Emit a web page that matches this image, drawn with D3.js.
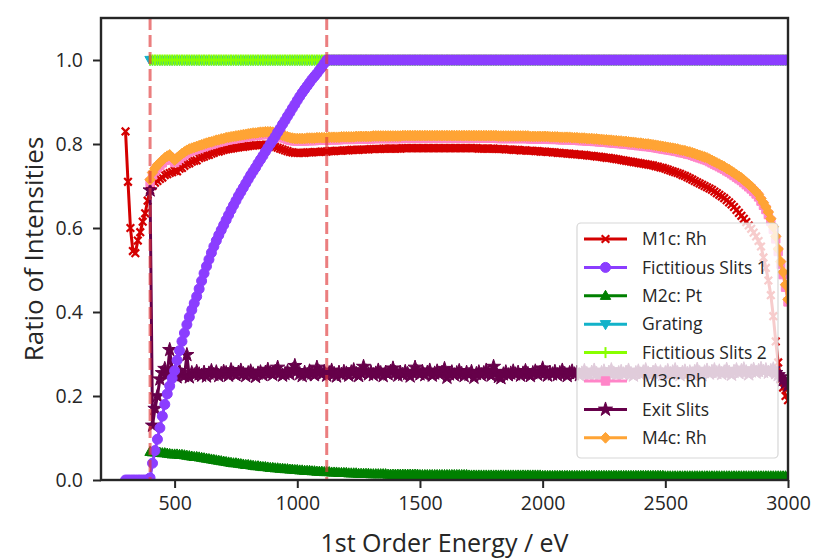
<!DOCTYPE html>
<html><head><meta charset="utf-8">
<script src="https://cdn.jsdelivr.net/npm/d3@7"></script>
<style>body{margin:0;background:#fff} text{font-family:"Open Sans",sans-serif;fill:#262626}</style>
</head><body><svg id="c" width="815" height="560"></svg>
<script>
// Energy grid (eV) sampled every 10 eV from 300 to 3000
const energies = d3.range(300, 3001, 10);
const seriesNames = ["M1c: Rh","Fictitious Slits 1","M2c: Pt","Grating","Fictitious Slits 2","M3c: Rh","Exit Slits","M4c: Rh"];
const xTicks = [500,1000,1500,2000,2500,3000];
const yTicks = [0,0.2,0.4,0.6,0.8,1.0];
const cutoffEnergies = [400,1120];
const N = null;

const m1cRh = [
0.83,0.71,0.60,0.545,0.54,0.57,0.59,0.615,0.635,0.665,
0.69,0.70,0.708,0.712,0.717,0.72,0.726,0.728,0.731,0.733,
0.736,0.735,0.741,0.743,0.748,0.752,0.754,0.758,0.76,0.761,
0.766,0.768,0.77,0.773,0.774,0.777,0.779,0.782,0.782,0.784,
0.786,0.787,0.788,0.789,0.79,0.791,0.792,0.793,0.793,0.794,
0.795,0.796,0.796,0.797,0.797,0.798,0.798,0.798,0.798,0.797,
0.795,0.793,0.791,0.789,0.787,0.785,0.783,0.781,0.78,0.779,
0.779,0.779,0.779,0.779,0.78,0.78,0.78,0.781,0.781,0.781,
0.782,0.782,0.782,0.783,0.783,0.783,0.784,0.784,0.784,0.785,
0.785,0.785,0.786,0.786,0.786,0.786,0.787,0.787,0.787,0.787,
0.788,0.788,0.788,0.788,0.788,0.789,0.789,0.789,0.789,0.789,
0.789,0.789,0.789,0.79,0.79,0.79,0.79,0.79,0.79,0.79,
0.79,0.79,0.79,0.79,0.79,0.79,0.79,0.79,0.79,0.79,
0.79,0.79,0.79,0.79,0.79,0.79,0.79,0.79,0.79,0.79,
0.79,0.79,0.79,0.79,0.789,0.789,0.789,0.789,0.789,0.789,
0.789,0.788,0.788,0.788,0.788,0.787,0.787,0.787,0.786,0.786,
0.786,0.785,0.785,0.785,0.784,0.784,0.784,0.783,0.783,0.782,
0.782,0.782,0.781,0.781,0.78,0.78,0.779,0.779,0.778,0.778,
0.777,0.777,0.776,0.776,0.775,0.775,0.774,0.774,0.773,0.772,
0.772,0.771,0.77,0.77,0.769,0.768,0.767,0.767,0.766,0.765,
0.764,0.763,0.762,0.761,0.76,0.759,0.758,0.757,0.756,0.755,
0.754,0.753,0.752,0.751,0.75,0.749,0.747,0.746,0.744,0.743,
0.741,0.739,0.737,0.735,0.733,0.731,0.729,0.726,0.724,0.721,
0.718,0.715,0.712,0.709,0.706,0.703,0.70,0.697,0.694,0.691,
0.687,0.683,0.679,0.675,0.671,0.666,0.661,0.656,0.65,0.643,
0.636,0.629,0.622,0.614,0.606,0.598,0.589,0.58,0.569,0.556,
0.53,0.505,0.475,0.44,0.39,0.33,0.28,0.24,0.22,0.20,
0.19];

const fictSlits1 = [
0,0,0,0,0,0,0,0,0,0,
0.005,0.04,0.07,0.097,0.124,0.152,0.18,0.205,0.224,0.242,
0.26,0.285,0.308,0.33,0.35,0.37,0.388,0.405,0.421,0.437,
0.455,0.474,0.492,0.509,0.525,0.541,0.556,0.57,0.583,0.595,
0.607,0.619,0.631,0.643,0.654,0.665,0.676,0.686,0.696,0.706,
0.716,0.726,0.735,0.744,0.754,0.763,0.772,0.782,0.791,0.80,
0.809,0.818,0.828,0.837,0.847,0.856,0.866,0.875,0.885,0.894,
0.904,0.913,0.922,0.930,0.938,0.946,0.954,0.961,0.968,0.976,
0.983,0.992,1,1,1,1,1,1,1,1,
1,1,1,1,1,1,1,1,1,1,
1,1,1,1,1,1,1,1,1,1,
1,1,1,1,1,1,1,1,1,1,
1,1,1,1,1,1,1,1,1,1,
1,1,1,1,1,1,1,1,1,1,
1,1,1,1,1,1,1,1,1,1,
1,1,1,1,1,1,1,1,1,1,
1,1,1,1,1,1,1,1,1,1,
1,1,1,1,1,1,1,1,1,1,
1,1,1,1,1,1,1,1,1,1,
1,1,1,1,1,1,1,1,1,1,
1,1,1,1,1,1,1,1,1,1,
1,1,1,1,1,1,1,1,1,1,
1,1,1,1,1,1,1,1,1,1,
1,1,1,1,1,1,1,1,1,1,
1,1,1,1,1,1,1,1,1,1,
1,1,1,1,1,1,1,1,1,1,
1,1,1,1,1,1,1,1,1,1,
1];

const m2cPt = [
N,N,N,N,N,N,N,N,N,N,
0.067,0.066,0.066,0.065,0.065,0.064,0.064,0.063,0.062,0.061,
0.061,0.061,0.06,0.06,0.059,0.058,0.057,0.056,0.055,0.055,
0.054,0.053,0.052,0.051,0.05,0.049,0.048,0.047,0.046,0.045,
0.044,0.043,0.042,0.041,0.04,0.04,0.039,0.038,0.037,0.036,
0.036,0.035,0.034,0.033,0.033,0.032,0.031,0.031,0.03,0.029,
0.029,0.028,0.028,0.027,0.027,0.026,0.026,0.025,0.025,0.024,
0.024,0.023,0.023,0.022,0.022,0.022,0.021,0.021,0.02,0.02,
0.02,0.019,0.019,0.019,0.018,0.018,0.018,0.017,0.017,0.017,
0.017,0.016,0.016,0.016,0.016,0.015,0.015,0.015,0.015,0.015,
0.014,0.014,0.014,0.014,0.014,0.014,0.014,0.013,0.013,0.013,
0.013,0.013,0.013,0.013,0.013,0.013,0.013,0.013,0.013,0.013,
0.012,0.012,0.012,0.012,0.012,0.012,0.012,0.012,0.012,0.012,
0.012,0.012,0.012,0.012,0.012,0.012,0.012,0.012,0.012,0.012,
0.011,0.011,0.011,0.011,0.011,0.011,0.011,0.011,0.011,0.011,
0.011,0.011,0.011,0.011,0.011,0.011,0.011,0.011,0.011,0.011,
0.011,0.011,0.011,0.011,0.011,0.011,0.011,0.011,0.011,0.011,
0.01,0.01,0.01,0.01,0.01,0.01,0.01,0.01,0.01,0.01,
0.01,0.01,0.01,0.01,0.01,0.01,0.01,0.01,0.01,0.01,
0.01,0.01,0.01,0.01,0.01,0.01,0.01,0.01,0.01,0.01,
0.01,0.01,0.01,0.01,0.01,0.01,0.01,0.01,0.01,0.01,
0.01,0.01,0.01,0.01,0.01,0.01,0.01,0.01,0.01,0.01,
0.009,0.009,0.009,0.009,0.009,0.009,0.009,0.009,0.009,0.009,
0.009,0.009,0.009,0.009,0.009,0.009,0.009,0.009,0.009,0.009,
0.009,0.009,0.009,0.009,0.009,0.009,0.009,0.009,0.009,0.009,
0.009,0.009,0.009,0.009,0.009,0.009,0.009,0.009,0.009,0.009,
0.009,0.009,0.009,0.009,0.009,0.009,0.009,0.009,0.009,0.009,
0.009];

const grating = [
N,N,N,N,N,N,N,N,N,N,
1,1,1,1,1,1,1,1,1,1, 1,1,1,1,1,1,1,1,1,1, 1,1,1,1,1,1,1,1,1,1,
1,1,1,1,1,1,1,1,1,1, 1,1,1,1,1,1,1,1,1,1, 1,1,1,1,1,1,1,1,1,1,
1,1,1,1,1,1,1,1,1,1, 1,1,1,1,1,1,1,1,1,1, 1,1,1,1,1,1,1,1,1,1,
1,1,1,1,1,1,1,1,1,1, 1,1,1,1,1,1,1,1,1,1, 1,1,1,1,1,1,1,1,1,1,
1,1,1,1,1,1,1,1,1,1, 1,1,1,1,1,1,1,1,1,1, 1,1,1,1,1,1,1,1,1,1,
1,1,1,1,1,1,1,1,1,1, 1,1,1,1,1,1,1,1,1,1, 1,1,1,1,1,1,1,1,1,1,
1,1,1,1,1,1,1,1,1,1, 1,1,1,1,1,1,1,1,1,1, 1,1,1,1,1,1,1,1,1,1,
1,1,1,1,1,1,1,1,1,1, 1,1,1,1,1,1,1,1,1,1, 1,1,1,1,1,1,1,1,1,1,
1,1,1,1,1,1,1,1,1,1, 1,1,1,1,1,1,1,1,1,1,
1];

const fictSlits2 = [
N,N,N,N,N,N,N,N,N,N,
1,1,1,1,1,1,1,1,1,1, 1,1,1,1,1,1,1,1,1,1, 1,1,1,1,1,1,1,1,1,1,
1,1,1,1,1,1,1,1,1,1, 1,1,1,1,1,1,1,1,1,1, 1,1,1,1,1,1,1,1,1,1,
1,1,1,1,1,1,1,1,1,1, 1,1,1,1,1,1,1,1,1,1, 1,1,1,1,1,1,1,1,1,1,
1,1,1,1,1,1,1,1,1,1, 1,1,1,1,1,1,1,1,1,1, 1,1,1,1,1,1,1,1,1,1,
1,1,1,1,1,1,1,1,1,1, 1,1,1,1,1,1,1,1,1,1, 1,1,1,1,1,1,1,1,1,1,
1,1,1,1,1,1,1,1,1,1, 1,1,1,1,1,1,1,1,1,1, 1,1,1,1,1,1,1,1,1,1,
1,1,1,1,1,1,1,1,1,1, 1,1,1,1,1,1,1,1,1,1, 1,1,1,1,1,1,1,1,1,1,
1,1,1,1,1,1,1,1,1,1, 1,1,1,1,1,1,1,1,1,1, 1,1,1,1,1,1,1,1,1,1,
1,1,1,1,1,1,1,1,1,1, 1,1,1,1,1,1,1,1,1,1,
1];

const m3cRh = [
N,N,N,N,N,N,N,N,N,N,
0.709,0.726,0.736,0.744,0.749,0.755,0.761,0.765,0.768,0.762,
0.756,0.761,0.766,0.771,0.775,0.779,0.782,0.784,0.786,0.788,
0.79,0.792,0.794,0.796,0.798,0.799,0.801,0.803,0.804,0.806,
0.807,0.809,0.81,0.811,0.812,0.813,0.814,0.815,0.816,0.817,
0.818,0.819,0.82,0.82,0.821,0.822,0.822,0.823,0.823,0.823,
0.822,0.821,0.819,0.817,0.815,0.813,0.811,0.809,0.808,0.807,
0.807,0.807,0.807,0.807,0.808,0.808,0.808,0.808,0.809,0.809,
0.809,0.809,0.809,0.81,0.81,0.81,0.81,0.81,0.811,0.811,
0.811,0.811,0.811,0.811,0.812,0.812,0.812,0.812,0.812,0.812,
0.812,0.813,0.813,0.813,0.813,0.813,0.813,0.813,0.813,0.813,
0.813,0.813,0.813,0.814,0.814,0.814,0.814,0.814,0.814,0.814,
0.814,0.814,0.814,0.814,0.814,0.814,0.814,0.814,0.814,0.814,
0.814,0.814,0.814,0.814,0.814,0.814,0.814,0.814,0.814,0.814,
0.814,0.814,0.814,0.814,0.814,0.814,0.814,0.814,0.814,0.814,
0.814,0.814,0.813,0.813,0.813,0.813,0.813,0.813,0.813,0.813,
0.813,0.813,0.813,0.813,0.813,0.812,0.812,0.812,0.812,0.812,
0.812,0.812,0.812,0.811,0.811,0.811,0.811,0.81,0.81,0.81,
0.81,0.81,0.809,0.809,0.809,0.808,0.808,0.808,0.807,0.807,
0.807,0.806,0.806,0.805,0.805,0.804,0.804,0.803,0.803,0.802,
0.802,0.801,0.801,0.80,0.80,0.799,0.798,0.798,0.797,0.796,
0.796,0.795,0.794,0.794,0.793,0.792,0.791,0.79,0.789,0.788,
0.787,0.786,0.785,0.784,0.783,0.782,0.78,0.779,0.778,0.776,
0.775,0.773,0.771,0.769,0.767,0.765,0.763,0.761,0.758,0.755,
0.752,0.749,0.746,0.743,0.74,0.736,0.733,0.729,0.725,0.721,
0.717,0.713,0.708,0.703,0.698,0.693,0.687,0.681,0.674,0.664,
0.654,0.644,0.632,0.616,0.597,0.574,0.544,0.514,0.489,0.459,
0.424];

const exitSlits = [
N,N,N,N,N,N,N,N,N,N,
0.69,0.13,0.17,0.2,0.24,0.255,0.265,0.25,0.31,0.26,
0.255,0.245,0.26,0.25,0.248,0.298,0.245,0.255,0.25,0.258,
0.252,0.249,0.256,0.247,0.254,0.26,0.251,0.257,0.248,0.253,
0.258,0.255,0.249,0.262,0.254,0.25,0.256,0.261,0.253,0.248,
0.255,0.259,0.252,0.246,0.254,0.257,0.25,0.256,0.263,0.255,
0.251,0.258,0.268,0.255,0.249,0.253,0.258,0.252,0.262,0.272,
0.26,0.253,0.248,0.256,0.251,0.259,0.254,0.25,0.268,0.257,
0.252,0.258,0.249,0.255,0.261,0.253,0.247,0.256,0.251,0.258,
0.254,0.249,0.257,0.262,0.253,0.248,0.255,0.27,0.259,0.252,
0.257,0.25,0.254,0.261,0.255,0.248,0.256,0.252,0.258,0.266,
0.255,0.249,0.256,0.251,0.258,0.253,0.247,0.255,0.268,0.257,
0.252,0.258,0.25,0.256,0.261,0.249,0.254,0.259,0.252,0.256,
0.265,0.244,0.252,0.257,0.25,0.255,0.26,0.253,0.248,0.256,
0.251,0.258,0.244,0.253,0.257,0.25,0.255,0.261,0.254,0.249,
0.27,0.258,0.246,0.243,0.252,0.257,0.25,0.254,0.259,0.252,
0.256,0.249,0.254,0.26,0.253,0.248,0.255,0.259,0.251,0.256,
0.266,0.255,0.249,0.256,0.252,0.258,0.25,0.255,0.261,0.253,
0.248,0.255,0.259,0.252,0.256,0.25,0.254,0.26,0.253,0.249,
0.256,0.261,0.253,0.248,0.255,0.259,0.251,0.256,0.262,0.254,
0.25,0.255,0.258,0.252,0.256,0.261,0.253,0.249,0.255,0.259,
0.252,0.257,0.262,0.254,0.249,0.256,0.26,0.253,0.257,0.251,
0.255,0.26,0.253,0.257,0.262,0.255,0.25,0.256,0.259,0.253,
0.257,0.252,0.258,0.263,0.255,0.25,0.257,0.261,0.254,0.258,
0.262,0.255,0.259,0.253,0.257,0.263,0.256,0.251,0.258,0.262,
0.255,0.26,0.264,0.257,0.252,0.259,0.263,0.256,0.26,0.265,
0.258,0.262,0.256,0.26,0.264,0.255,0.25,0.245,0.238,0.232,
0.225];

const m4cRh = [
N,N,N,N,N,N,N,N,N,N,
0.715,0.732,0.742,0.75,0.755,0.761,0.767,0.771,0.774,0.768,
0.762,0.767,0.772,0.777,0.781,0.785,0.788,0.79,0.792,0.794,
0.796,0.798,0.80,0.802,0.804,0.805,0.807,0.809,0.81,0.812,
0.813,0.815,0.816,0.817,0.818,0.819,0.82,0.821,0.822,0.823,
0.824,0.825,0.826,0.826,0.827,0.828,0.828,0.829,0.829,0.829,
0.828,0.827,0.825,0.823,0.821,0.819,0.817,0.815,0.814,0.813,
0.813,0.813,0.813,0.813,0.814,0.814,0.814,0.814,0.815,0.815,
0.815,0.815,0.815,0.816,0.816,0.816,0.816,0.816,0.817,0.817,
0.817,0.817,0.817,0.817,0.818,0.818,0.818,0.818,0.818,0.818,
0.818,0.819,0.819,0.819,0.819,0.819,0.819,0.819,0.819,0.819,
0.819,0.819,0.819,0.82,0.82,0.82,0.82,0.82,0.82,0.82,
0.82,0.82,0.82,0.82,0.82,0.82,0.82,0.82,0.82,0.82,
0.82,0.82,0.82,0.82,0.82,0.82,0.82,0.82,0.82,0.82,
0.82,0.82,0.82,0.82,0.82,0.82,0.82,0.82,0.82,0.82,
0.82,0.82,0.819,0.819,0.819,0.819,0.819,0.819,0.819,0.819,
0.819,0.819,0.819,0.819,0.819,0.818,0.818,0.818,0.818,0.818,
0.818,0.818,0.818,0.817,0.817,0.817,0.817,0.816,0.816,0.816,
0.816,0.816,0.815,0.815,0.815,0.814,0.814,0.814,0.813,0.813,
0.813,0.812,0.812,0.811,0.811,0.81,0.81,0.809,0.809,0.808,
0.808,0.807,0.807,0.806,0.806,0.805,0.804,0.804,0.803,0.802,
0.802,0.801,0.80,0.80,0.799,0.798,0.797,0.796,0.795,0.794,
0.793,0.792,0.791,0.79,0.789,0.788,0.786,0.785,0.784,0.782,
0.781,0.779,0.777,0.775,0.773,0.771,0.769,0.767,0.764,0.761,
0.758,0.755,0.752,0.749,0.746,0.742,0.739,0.735,0.731,0.727,
0.723,0.719,0.714,0.709,0.704,0.699,0.693,0.687,0.68,0.67,
0.66,0.65,0.638,0.622,0.603,0.58,0.55,0.52,0.495,0.465,
0.43];

// ---------- drawing ----------
const W = 815, H = 560, M = {l:101, r:27, t:18, b:80};
const svg = d3.select("#c");
const x = d3.scaleLinear().domain([200, 3000]).range([M.l, W - M.r]);
const y = d3.scaleLinear().domain([0, 1.1]).range([H - M.b, M.t]);

const markerPaths = {
  x: "M-3.8,-3.8L3.8,3.8M-3.8,3.8L3.8,-3.8",
  circle: d3.symbol(d3.symbolCircle, Math.PI*5*5)(),
  triUp: "M0,-5.5L5.2,3.6L-5.2,3.6Z",
  triDown: "M0,5.5L5.2,-3.6L-5.2,-3.6Z",
  vline: "M0,-5.5V5.5",
  square: "M-4.2,-4.2H4.2V4.2H-4.2Z",
  star: d3.symbol(d3.symbolStar, 62)(),
  diamond: "M0,-5.4L5.2,0L0,5.4L-5.2,0Z"
};
const strokeMarkers = {x:true, vline:true};

const series = [
  {name: seriesNames[0], values: m1cRh, color: "#d40000", marker: "x"},
  {name: seriesNames[1], values: fictSlits1, color: "#8b3dff", marker: "circle"},
  {name: seriesNames[2], values: m2cPt, color: "#008000", marker: "triUp"},
  {name: seriesNames[3], values: grating, color: "#12b2c9", marker: "triDown"},
  {name: seriesNames[4], values: fictSlits2, color: "#88ff00", marker: "vline"},
  {name: seriesNames[5], values: m3cRh, color: "#ff85c8", marker: "square"},
  {name: seriesNames[6], values: exitSlits, color: "#66004a", marker: "star"},
  {name: seriesNames[7], values: m4cRh, color: "#ffa435", marker: "diamond"}
];
const drawOrder = [0,2,3,4,5,6,7,1];

svg.append("defs").append("clipPath").attr("id","plotclip")
  .append("rect").attr("x", M.l).attr("y", M.t)
  .attr("width", W - M.l - M.r).attr("height", H - M.t - M.b);

const plot = svg.append("g").attr("clip-path","url(#plotclip)");
const line = d3.line().defined(d => d.v != null).x(d => x(d.e)).y(d => y(d.v));

function drawMarker(sel, s) {
  const p = sel.append("path").attr("d", markerPaths[s.marker]);
  if (strokeMarkers[s.marker]) p.attr("fill","none").attr("stroke", s.color).attr("stroke-width", s.marker==="x"?2.2:2);
  else p.attr("fill", s.color).attr("stroke", s.color).attr("stroke-width", 1);
  return p;
}

drawOrder.forEach(k => {
  const s = series[k];
  const pts = energies.map((e,i) => ({e, v: s.values[i]}));
  const g = plot.append("g");
  g.append("path").datum(pts).attr("d", line)
    .attr("fill","none").attr("stroke", s.color).attr("stroke-width", 3).attr("stroke-linejoin","round");
  pts.filter(d => d.v != null).forEach(d => {
    const mg = g.append("g").attr("transform", `translate(${x(d.e)},${y(d.v)})`);
    drawMarker(mg, s);
  });
});

// cutoff dashed lines
plot.selectAll("line.cut").data(cutoffEnergies).enter().append("line")
  .attr("x1", d => x(d)).attr("x2", d => x(d))
  .attr("y1", M.t).attr("y2", H - M.b)
  .attr("stroke", "#e0393b").attr("stroke-opacity", 0.65)
  .attr("stroke-width", 3).attr("stroke-dasharray", "12,5");

// axes
const xAxis = svg.append("g").attr("transform", `translate(0,${H - M.b})`)
  .call(d3.axisBottom(x).tickValues(xTicks).tickSize(8).tickPadding(8).tickFormat(d3.format("d")));
const yAxis = svg.append("g").attr("transform", `translate(${M.l},0)`)
  .call(d3.axisLeft(y).tickValues(yTicks).tickSize(8).tickPadding(10).tickFormat(d3.format(".1f")));
[xAxis, yAxis].forEach(a => {
  a.select(".domain").remove();
  a.selectAll(".tick line").attr("stroke", "#262626").attr("stroke-width", 2);
  a.selectAll(".tick text").attr("font-size", 19.5).attr("font-family", "Open Sans").attr("fill", "#262626");
});

// frame
svg.append("rect").attr("x", M.l).attr("y", M.t)
  .attr("width", W - M.l - M.r).attr("height", H - M.t - M.b)
  .attr("fill","none").attr("stroke","#262626").attr("stroke-width", 2.4);

// axis titles
svg.append("text").attr("x", (M.l + W - M.r)/2).attr("y", 552)
  .attr("text-anchor","middle").attr("font-size", 25).text("1st Order Energy / eV");
svg.append("text").attr("transform", `translate(43,${(M.t + H - M.b)/2}) rotate(-90)`)
  .attr("text-anchor","middle").attr("font-size", 26).text("Ratio of Intensities");

// legend
const lg = svg.append("g");
lg.append("rect").attr("x", 577).attr("y", 223).attr("width", 201).attr("height", 235)
  .attr("rx", 4).attr("fill", "#ffffff").attr("fill-opacity", 0.8)
  .attr("stroke", "#cccccc").attr("stroke-opacity", 0.8).attr("stroke-width", 1.2);
series.forEach((s, i) => {
  const cy = 239 + i * 28.4;
  const row = lg.append("g").attr("transform", `translate(0,${cy})`);
  row.append("line").attr("x1", 584).attr("x2", 627).attr("y1", 0).attr("y2", 0)
    .attr("stroke", s.color).attr("stroke-width", 3);
  drawMarker(row.append("g").attr("transform", "translate(605.5,0)"), s);
  row.append("text").attr("x", 642).attr("y", 0).attr("dy", "0.35em")
    .attr("font-size", 17.5).text(s.name);
});
</script>
</body></html>
